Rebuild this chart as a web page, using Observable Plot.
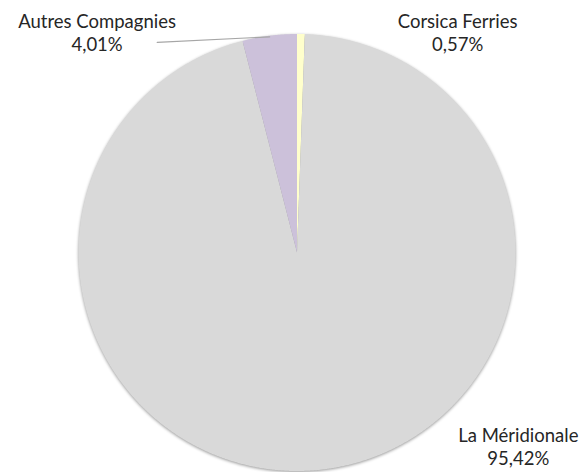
<!DOCTYPE html>
<html>
<head>
<meta charset="utf-8">
<script src="https://cdn.jsdelivr.net/npm/d3@7"></script>
<script src="https://cdn.jsdelivr.net/npm/@observablehq/plot@0.6"></script>
<style>
  html, body { margin: 0; padding: 0; background: #fff; }
  #chart svg { display: block; }
</style>
</head>
<body>
<div id="chart"></div>
<script>
// ---- Data ----
const companies = ["Corsica Ferries", "La Méridionale", "Autres Compagnies"];
const shares = [0.57, 95.42, 4.01];
const shareLabels = ["0,57%", "95,42%", "4,01%"];
const sliceColors = ["#ffffcc", "#d9d9d9", "#ccc1da"];

// ---- Build slices (clockwise from 12 o'clock) in unit-circle data space ----
const pie = d3.pie().sort(null).value(d => d)(shares);
const slicePoints = [];
pie.forEach((p, i) => {
  const a0 = p.startAngle, a1 = p.endAngle;
  const n = Math.max(2, Math.ceil((a1 - a0) / (Math.PI / 720)));
  slicePoints.push({name: companies[i], x: 0, y: 0});
  for (let k = 0; k <= n; k++) {
    const a = a0 + (a1 - a0) * k / n;
    slicePoints.push({name: companies[i], x: Math.sin(a), y: Math.cos(a)});
  }
});

// label anchors (layout, in the unit-circle data space)
const labelAnchor = {
  "Corsica Ferries":   {x: 0.735, y: 1.008},
  "La Méridionale":    {x: 1.013, y: -0.885},
  "Autres Compagnies": {x: -0.915, y: 1.008}
};
const labels = companies.map((c, i) => ({
  text: c + "\n" + shareLabels[i],
  x: labelAnchor[c].x,
  y: labelAnchor[c].y
}));

// leader line for "Autres Compagnies": from label to the slice's mid-angle on the rim
const iAutres = companies.indexOf("Autres Compagnies");
const midA = (pie[iAutres].startAngle + pie[iAutres].endAngle) / 2;
const leader = [
  {x: -0.64, y: 0.962},
  {x: Math.sin(midA) * 0.995, y: Math.cos(midA) * 0.995}
];

const chart = Plot.plot({
  width: 584,
  height: 472,
  marginLeft: 78,
  marginRight: 69,
  marginTop: 33.5,
  marginBottom: 1.5,
  x: {domain: [-1, 1], axis: null},
  y: {domain: [-1, 1], axis: null},
  color: {domain: companies, range: sliceColors},
  style: {fontFamily: "Lato, 'DejaVu Sans', sans-serif", background: "#fff"},
  marks: [
    Plot.line(slicePoints, {
      x: "x", y: "y", z: "name", fill: "name", stroke: null,
      curve: "linear-closed",
      render: (index, scales, values, dims, context, next) => {
        const g = next(index, scales, values, dims, context);
        g.setAttribute("style", "filter: drop-shadow(0px 1px 1.5px rgba(0,0,0,0.4))");
        return g;
      }
    }),
    Plot.line(leader, {x: "x", y: "y", stroke: "#a6a6a6", strokeWidth: 1.2}),
    Plot.text(labels, {
      x: "x", y: "y", text: "text",
      textAnchor: "middle", lineAnchor: "middle",
      lineHeight: 1.26, fontSize: 18.5, fill: "#262626"
    })
  ]
});
document.getElementById("chart").appendChild(chart);
</script>
</body>
</html>
